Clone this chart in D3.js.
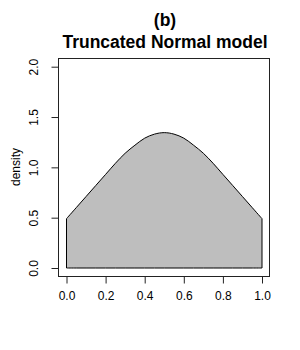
<!doctype html>
<html>
<head>
<style>
    body { margin: 0; background: #fff; }
    text { font-family: "Liberation Sans", Arial, sans-serif; fill: #000; }
    .axis path, .axis line { stroke: #222; stroke-width: 1; fill: none; }
</style>
<script src="https://d3js.org/d3.v7.min.js"></script>
</head>
<body>
<svg width="300" height="350"></svg>
<script>
// density values, x = 0, 0.05, ..., 1
var xs = [0, 0.05, 0.1, 0.15, 0.2, 0.25, 0.3, 0.35, 0.4, 0.45, 0.5,
          0.55, 0.6, 0.65, 0.7, 0.75, 0.8, 0.85, 0.9, 0.95, 1];
var dens = [0.49, 0.60, 0.71, 0.82, 0.93, 1.04, 1.14, 1.22, 1.29, 1.33, 1.345,
            1.33, 1.29, 1.22, 1.14, 1.04, 0.93, 0.82, 0.71, 0.60, 0.49];
var xTicks = [0, 0.2, 0.4, 0.6, 0.8, 1];
var yTicks = [0, 0.5, 1, 1.5, 2];

var svg = d3.select("svg");

var x = d3.scaleLinear().domain([0, 1]).range([66.5, 262]);
var y = d3.scaleLinear().domain([0, 2]).range([268, 66.7]);

var box = { left: 58.5, top: 58.5, right: 269.5, bottom: 276.5 };

var pts = xs.map(function(d, i) { return [d, dens[i]]; });

// shaded area
var area = d3.area()
    .x(function(d) { return x(d[0]); })
    .y0(y(0))
    .y1(function(d) { return y(d[1]); })
    .curve(d3.curveCatmullRom);

svg.append("path")
   .datum(pts)
   .attr("d", area)
   .attr("fill", "#bebebe")
   .attr("stroke", "#000")
   .attr("stroke-width", 1);

// plot frame
svg.append("rect")
   .attr("x", box.left).attr("y", box.top)
   .attr("width", box.right - box.left)
   .attr("height", box.bottom - box.top)
   .attr("fill", "none")
   .attr("stroke", "#222");

// axes
var gx = svg.append("g")
    .attr("class", "axis")
    .attr("transform", "translate(0," + box.bottom + ")")
    .call(d3.axisBottom(x).tickValues(xTicks).tickSize(7).tickPadding(8)
        .tickFormat(d3.format(".1f")));
gx.select(".domain").remove();
gx.selectAll("text").attr("font-size", "12px").attr("fill", "#000");

var gy = svg.append("g")
    .attr("class", "axis")
    .attr("transform", "translate(" + box.left + ",0)")
    .call(d3.axisLeft(y).tickValues(yTicks).tickSize(7).tickFormat(d3.format(".1f")));
gy.select(".domain").remove();
gy.selectAll("text")
  .attr("font-size", "12px")
  .attr("fill", "#000")
  .attr("text-anchor", "middle")
  .attr("x", 0).attr("y", 0).attr("dy", 0)
  .attr("transform", "translate(-21,0) rotate(-90)");

// labels
svg.append("text")
   .attr("transform", "translate(20,167) rotate(-90)")
   .attr("text-anchor", "middle")
   .attr("font-size", "12px")
   .text("density");

svg.append("text")
   .attr("x", 165).attr("y", 26)
   .attr("text-anchor", "middle")
   .attr("font-size", "17.5px").attr("font-weight", "bold")
   .text("(b)");

svg.append("text")
   .attr("x", 165).attr("y", 48)
   .attr("text-anchor", "middle")
   .attr("font-size", "17.5px").attr("font-weight", "bold")
   .text("Truncated Normal model");
</script>
</body>
</html>
